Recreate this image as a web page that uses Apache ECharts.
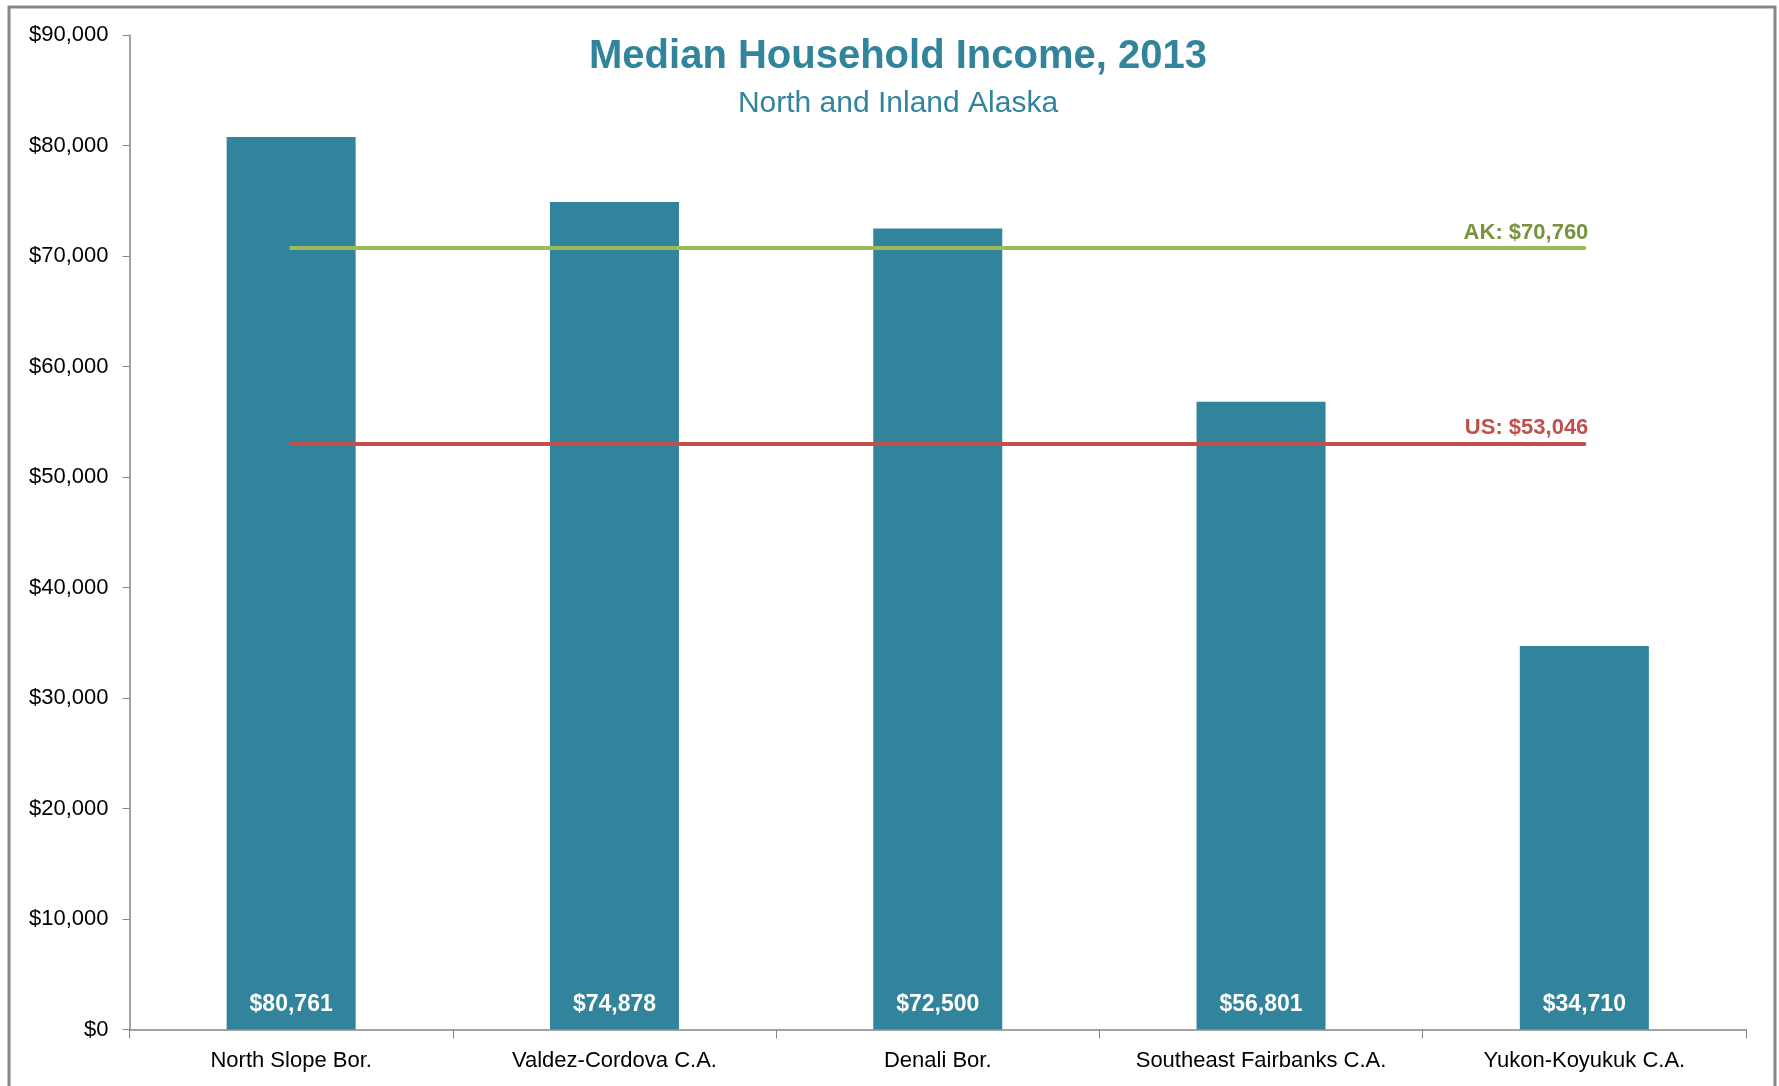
<!DOCTYPE html>
<html>
<head>
<meta charset="utf-8">
<script src="https://cdn.jsdelivr.net/npm/echarts@6/dist/echarts.min.js"></script>
<style>
html,body{margin:0;padding:0;background:#fff;}
#chart{width:1779px;height:1086px;}
</style>
</head>
<body>
<div id="chart"></div>
<script>
var categories = ["North Slope Bor.", "Valdez-Cordova C.A.", "Denali Bor.", "Southeast Fairbanks C.A.", "Yukon-Koyukuk C.A."];
var incomes = [80761, 74878, 72500, 56801, 34710];
var akMedian = 70760;
var usMedian = 53046;
var yTicks = [0, 10000, 20000, 30000, 40000, 50000, 60000, 70000, 80000, 90000];

function money(v){ return '$' + Math.round(v).toString().replace(/\B(?=(\d{3})+(?!\d))/g, ','); }

var FONT = "'Liberation Sans', Arial, sans-serif";
var chart = echarts.init(document.getElementById('chart'));
chart.setOption({
  animation: false,
  backgroundColor: '#ffffff',
  textStyle: { fontFamily: FONT },
  title: {
    text: 'Median Household Income, 2013',
    subtext: 'North and Inland Alaska',
    left: 893, top: 32, textAlign: 'center',
    itemGap: 12,
    textStyle: { fontFamily: FONT, fontSize: 40, fontWeight: 'bold', color: '#31849B' },
    subtextStyle: { fontFamily: FONT, fontSize: 30, color: '#31849B' }
  },
  graphic: [{
    type: 'rect', silent: true,
    shape: { x: 9, y: 7, width: 1766, height: 1110 },
    style: { fill: 'none', stroke: '#878787', lineWidth: 3 }
  }],
  grid: { left: 129.5, right: 33, top: 35, bottom: 56.5 },
  xAxis: {
    type: 'category', data: categories,
    axisLine: { lineStyle: { color: '#868686', width: 1.5 } },
    axisTick: { show: true, alignWithLabel: false, length: 9, lineStyle: { color: '#868686' } },
    axisLabel: { color: '#000', fontSize: 22, margin: 20, interval: 0, fontFamily: FONT }
  },
  yAxis: {
    type: 'value', min: yTicks[0], max: yTicks[yTicks.length-1], interval: yTicks[1]-yTicks[0],
    splitLine: { show: false },
    axisLine: { show: true, lineStyle: { color: '#868686', width: 1.5 } },
    axisTick: { show: true, length: 7, lineStyle: { color: '#868686' } },
    axisLabel: { color: '#000', fontSize: 22, margin: 21, fontFamily: FONT, formatter: money }
  },
  series: [{
    type: 'bar', data: incomes, barWidth: 129,
    itemStyle: { color: '#31849B' },
    label: {
      show: true, position: 'insideBottom', distance: 13,
      color: '#fff', fontSize: 23, fontWeight: 'bold', fontFamily: FONT,
      formatter: function(p){ return money(p.value); }
    },
    markLine: {
      silent: true, symbol: ['none','none'],
      data: [
        [{ coord: [categories[0], akMedian], lineStyle: { color: '#9BBB59', width: 4, type: 'solid', cap: 'round' },
           label: { color: '#77933C', formatter: 'AK: ' + money(akMedian) } },
         { coord: [categories[categories.length-1], akMedian] }],
        [{ coord: [categories[0], usMedian], lineStyle: { color: '#C0504D', width: 4, type: 'solid', cap: 'round' },
           label: { color: '#C0504D', formatter: 'US: ' + money(usMedian) } },
         { coord: [categories[categories.length-1], usMedian] }]
      ],
      label: { show: true, position: 'insideEndTop', distance: [ -4, 4 ], fontSize: 22, fontWeight: 'bold', fontFamily: FONT }
    }
  }]
});
</script>
</body>
</html>
